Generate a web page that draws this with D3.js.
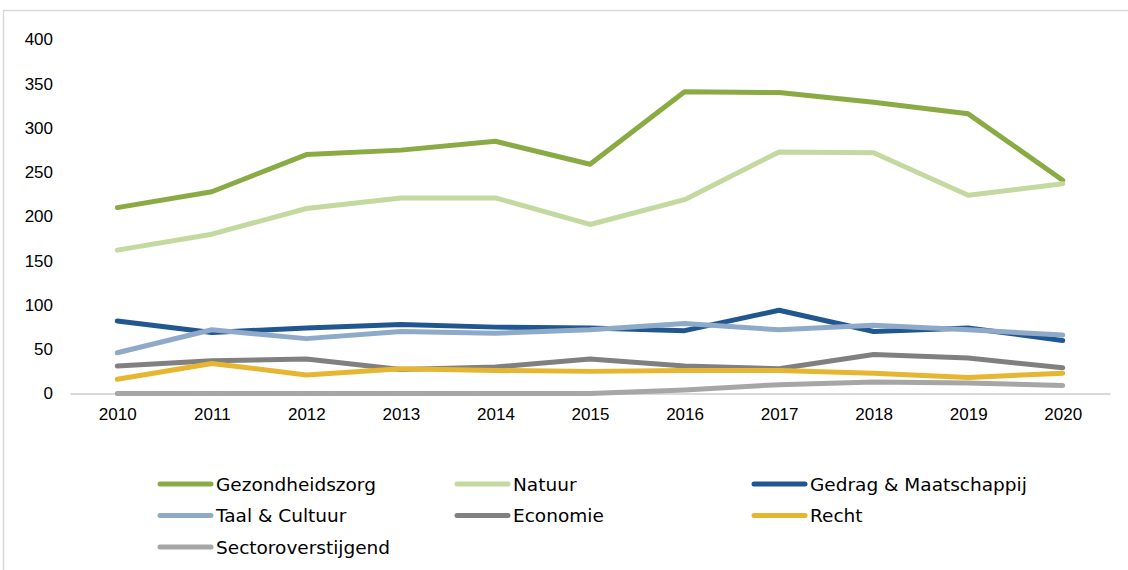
<!DOCTYPE html>
<html>
<head>
<meta charset="utf-8">
<script src="https://cdn.jsdelivr.net/npm/d3@7"></script>
<style>
    body { margin: 0; background: #fff; }
    #chart { width: 1128px; height: 570px; }
</style>
</head>
<body>
<div id="chart"></div>
<script>
// Years on the x axis
const years = [2010, 2011, 2012, 2013, 2014, 2015, 2016, 2017, 2018, 2019, 2020];

// Series values
const gezondheidszorg    = [210, 228, 270, 275, 285, 259, 341, 340, 329, 316, 241];
const natuur             = [162, 180, 209, 221, 221, 191, 219, 273, 272, 224, 237];
const gedragMaatschappij = [82, 69, 74, 78, 75, 74, 71, 94, 70, 74, 60];
const taalCultuur        = [46, 72, 62, 70, 68, 72, 79, 72, 77, 72, 66];
const economie           = [31, 37, 39, 27, 30, 39, 31, 28, 44, 40, 29];
const recht              = [16, 34, 21, 28, 26, 25, 26, 26, 23, 18, 23];
const sectoroverstijgend = [0, 0, 0, 0, 0, 0, 4, 10, 13, 12, 9];

const seriesNames  = ["Gezondheidszorg", "Natuur", "Gedrag & Maatschappij", "Taal & Cultuur", "Economie", "Recht", "Sectoroverstijgend"];
const seriesValues = [gezondheidszorg, natuur, gedragMaatschappij, taalCultuur, economie, recht, sectoroverstijgend];
const seriesColors = ["#8AAB44", "#C4D9A0", "#215791", "#8FAAC9", "#808080", "#E6B631", "#A6A6A6"];

const yTicks = [0, 50, 100, 150, 200, 250, 300, 350, 400];

const width = 1128, height = 570;

const svg = d3.select("#chart")
    .append("svg")
    .attr("width", width)
    .attr("height", height);

// Chart area border (only top and left visible)
svg.append("path")
    .attr("d", `M3.5,${height} V10.5 H${width}`)
    .attr("fill", "none")
    .attr("stroke", "#D9D9D9")
    .attr("stroke-width", 1.5);

// Scales
const x = d3.scalePoint()
    .domain(years)
    .range([70, 1110])
    .padding(0.5);

const y = d3.scaleLinear()
    .domain([0, 400])
    .range([393.5, 39.5]);

// Y axis labels
const yAxis = svg.append("g")
    .attr("transform", "translate(53,0)")
    .call(d3.axisLeft(y).tickValues(yTicks).tickSize(0).tickPadding(0));
yAxis.select(".domain").remove();
yAxis.selectAll("text")
    .attr("fill", "#000")
    .style("font", "17px 'Liberation Sans', Arial, sans-serif");

// X axis with baseline
const xAxis = svg.append("g")
    .attr("transform", `translate(0,${y(0)})`)
    .call(d3.axisBottom(x).tickSize(0).tickPadding(14));
xAxis.select(".domain")
    .attr("stroke", "#D9D9D9")
    .attr("stroke-width", 2);
xAxis.selectAll("text")
    .attr("fill", "#000")
    .style("font", "17px 'Liberation Sans', Arial, sans-serif");

// Lines
const line = d3.line()
    .x((d, i) => x(years[i]))
    .y(d => y(d));

svg.append("g")
    .selectAll("path")
    .data(seriesValues)
    .join("path")
    .attr("d", d => line(d))
    .attr("fill", "none")
    .attr("stroke", (d, i) => seriesColors[i])
    .attr("stroke-width", 5)
    .attr("stroke-linecap", "round")
    .attr("stroke-linejoin", "round");

// Legend (3 columns)
const legendX = [158, 455, 752];
const legendY = [484, 515.5, 547];

const legend = svg.append("g")
    .selectAll("g")
    .data(seriesNames)
    .join("g")
    .attr("transform", (d, i) => `translate(${legendX[i % 3]},${legendY[Math.floor(i / 3)]})`);

legend.append("line")
    .attr("x1", 2)
    .attr("x2", 53)
    .attr("stroke", (d, i) => seriesColors[i])
    .attr("stroke-width", 5)
    .attr("stroke-linecap", "round");

legend.append("text")
    .attr("x", 58)
    .attr("dy", "0.36em")
    .attr("fill", "#000")
    .style("font", "18.5px 'DejaVu Sans', sans-serif")
    .text(d => d);
</script>
</body>
</html>
